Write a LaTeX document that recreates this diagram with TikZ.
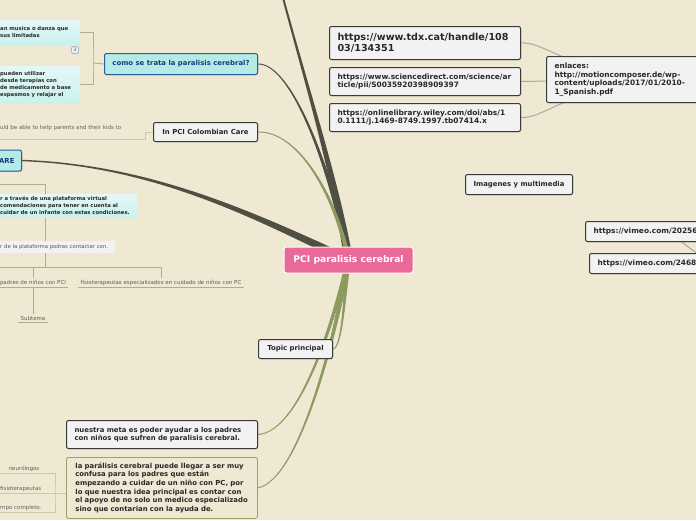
\documentclass[tikz,border=0pt]{standalone}
\usepackage{fontspec}
\setmainfont{DejaVu Sans}
\usetikzlibrary{calc,shadows}

\definecolor{paper}{RGB}{239,232,210}
\definecolor{darkbranch}{RGB}{80,79,67}
\definecolor{greenbranch}{RGB}{140,154,98}
\definecolor{pinkhub}{RGB}{233,105,152}
\definecolor{cyanfill}{RGB}{179,235,231}
\definecolor{cyanline}{RGB}{45,93,150}
\definecolor{cyantext}{RGB}{27,58,120}
\definecolor{boxfill}{RGB}{242,242,242}
\definecolor{boxline}{RGB}{58,58,58}
\definecolor{boxtext}{RGB}{40,40,40}
\definecolor{linkline}{RGB}{168,168,164}
\definecolor{bracketline}{RGB}{178,170,148}
\definecolor{paleline}{RGB}{200,202,166}
\definecolor{idealine}{RGB}{150,163,110}

\pgfdeclarelayer{canvas}
\pgfdeclarelayer{wires}
\pgfsetlayers{canvas,wires,main}

\tikzset{
  hub/.style={fill=pinkhub, draw=white, line width=1pt, rounded corners=2.5pt,
    text=white, font=\bfseries\fontsize{9.2}{11}\selectfont},
  question/.style={fill=cyanfill, draw=cyanline, line width=1pt, rounded corners=2pt,
    text=cyantext, font=\bfseries\fontsize{6.9}{8.6}\selectfont,
    drop shadow={opacity=.3, shadow xshift=.8pt, shadow yshift=-.8pt}},
  topic/.style={fill=boxfill, draw=boxline, line width=1pt, rounded corners=2pt,
    text=boxtext, font=\bfseries\fontsize{6.9}{8.6}\selectfont,
    drop shadow={opacity=.3, shadow xshift=.8pt, shadow yshift=-.8pt}},
  link/.style={topic, align=left, inner xsep=8pt, font=\bfseries\fontsize{7.4}{8.2}\selectfont},
  idea/.style={fill=paper, draw=idealine, line width=.8pt, rounded corners=2pt,
    text=boxtext, font=\bfseries\fontsize{6.9}{8.7}\selectfont, align=left, inner xsep=9pt},
  leafbox/.style={top color=cyanfill!35, bottom color=cyanfill!70, align=left,
    inner xsep=6pt, inner ysep=2pt, text=boxtext, font=\bfseries\fontsize{5.3}{7}\selectfont},
  plainbox/.style={fill=boxfill, align=left, inner xsep=6pt, inner ysep=2pt,
    text=boxtext!80, font=\fontsize{5.3}{7}\selectfont},
  leaftext/.style={inner xsep=2pt, inner ysep=1.5pt, text=boxtext!75,
    font=\fontsize{5.5}{6.5}\selectfont},
  badge/.style={fill=boxfill, draw=cyanline!60, line width=.5pt, rounded corners=1.5pt,
    inner sep=1pt, minimum size=7pt, text=cyanline, font=\fontsize{4.5}{5}\selectfont},
  darkarm/.style={fill=darkbranch, draw=darkbranch, line width=.9pt, line join=round},
  greenarm/.style={fill=greenbranch, draw=greenbranch, line width=.9pt, line join=round},
  bracket/.style={draw=bracketline, line width=.8pt},
  pale/.style={draw=paleline, line width=.8pt},
  weblink/.style={draw=linkline, line width=1pt}
}

%% A branch that gets thicker towards the central topic.
\newcommand{\arm}[6]{%
  \filldraw[#1] (#2) .. controls (#3) and (#4) .. ($(#5)+(#6)$)
    -- ($(#5)-(#6)$) .. controls ($(#4)-(#6)$) and (#3) .. (#2) -- cycle;}

\begin{document}
\begin{tikzpicture}[x=1pt,y=-1pt]
  %% Canvas.
  \begin{pgfonlayer}{canvas}
    \fill[paper] (0,0) rectangle (696,520);
  \end{pgfonlayer}
  \useasboundingbox (0,0) rectangle (696,520);
  \clip (0,0) rectangle (696,520);

  %% Central topic.
  \node[hub, minimum width=129, minimum height=26] (pci) at (348.5,260) {PCI paralisis cerebral};

  %% Main topics round the centre.
  \node[question, anchor=north west, minimum width=153, minimum height=21] (como) at (104,53)
    {como se trata la paralisis cerebral?};
  \node[question, anchor=east, inner xsep=7pt, text width=30, align=right, minimum height=21] (are) at (22,160.5) {ARE};
  \node[topic, anchor=north west, minimum width=104, minimum height=19] (inpci) at (153,122)
    {In PCI Colombian Care};
  \node[topic, anchor=north west, minimum width=74, minimum height=19] (topicp) at (258,339)
    {Topic principal};
  \node[topic, anchor=north west, align=left, inner xsep=8pt, text width=175, minimum height=28] (meta) at (66,420)
    {nuestra meta es poder ayudar a los padres\\con niños que sufren de paralisis cerebral.};
  \node[idea, anchor=north west, text width=173, minimum height=61] (idea) at (66,457)
    {la parálisis cerebral puede llegar a ser muy\\confusa para los padres que están\\empezando a cuidar de un niño con PC, por\\lo que nuestra idea principal es contar con\\el apoyo de no solo un medico especializado\\sino que contarian con la ayuda de.};

  %% Links.
  \node[link, anchor=north west, text width=175, minimum height=33, font=\bfseries\fontsize{9.6}{10.5}\selectfont] (tdx) at (329,26)
    {https://www.tdx.cat/handle/108\\03/134351};
  \node[link, anchor=north west, text width=175, minimum height=28] (sciencedirect) at (329,67)
    {https://www.sciencedirect.com/science/ar\\ticle/pii/S0035920398909397};
  \node[link, anchor=north west, text width=175, minimum height=28] (wiley) at (329,103)
    {https://onlinelibrary.wiley.com/doi/abs/1\\0.1111/j.1469-8749.1997.tb07414.x};
  \node[link, anchor=north west, text width=140, minimum height=46, font=\bfseries\fontsize{7.4}{8.4}\selectfont] (enlaces) at (546,56)
    {enlaces:\\http://motioncomposer.de/wp-\\content/uploads/2017/01/2010-\\1\_Spanish.pdf};
  \node[topic, anchor=north west, minimum width=107, minimum height=20] (multimedia) at (465,174)
    {Imagenes y multimedia};
  \node[link, anchor=north west, text width=120, minimum height=20] (vimeoA) at (585,221)
    {https://vimeo.com/20256};
  \node[link, anchor=north west, text width=120, minimum height=20] (vimeoB) at (589,253)
    {https://vimeo.com/2468};
  \coordinate (vimeoend) at (702,257);

  %% Subtopics of "como se trata".
  \node[leafbox, anchor=north west, text width=74, minimum height=24] (musica) at (-6,20)
    {an musica o danza que\\ sus limitadas};
  \node[leafbox, anchor=north west, text width=74, minimum height=37] (terapias) at (-6,66)
    {pueden utilizar\\ desde terapias con\\ de medicamento a base\\ espasmos y relajar el};
  \node[badge] (count) at (75,50) {3};
  \coordinate (comojoint) at (93,63);

  %% Subtopic of "In PCI Colombian Care".
  \node[leaftext, anchor=west] (kids) at (-2,128) {uld be able to help parents and their kids to};
  \coordinate (kidsjoint) at (145,139);
  \coordinate (kidsend) at (0,139);

  %% Subtopics of "ARE".
  \node[leafbox, anchor=north west, text width=131, minimum height=23] (plataforma) at (-6,194)
    {r a través de una plataforma virtual\\ comendaciones para tener en cuenta al\\ cuidar de un infante con estas condiciones.};
  \node[plainbox, anchor=north west, text width=109, minimum height=12] (contactar) at (-6,241)
    {r de la plataforma podras contactar con.};
  \coordinate (aretop) at (0,184);
  \coordinate (arebot) at (0,267);
  \coordinate (arejoint) at (45,184);
  \coordinate (padresjoint) at (33,267);
  \node[leaftext, anchor=south] (padres) at (33,287) {padres de niños con PCI};
  \node[leaftext, anchor=south] (fisio) at (161,287) {fisioterapeutas especializados en cuidado de niños con PC};
  \node[leaftext, anchor=south] (subtema) at (33,322) {Subtema};

  %% Subtopics of the main idea.
  \node[leaftext, anchor=south] (neuro) at (24,473) {neurólogos};
  \node[leaftext, anchor=south west] (fisiob) at (-2,493) {fisioterapeutas};
  \node[leaftext, anchor=south west] (completo) at (-2,512) {mpo completo.};
  \coordinate (ideajoint) at (55,493);

  \begin{pgfonlayer}{wires}
    %% Branches into the central topic.
    \arm{darkarm, line width=2pt}{282,-6}{305,80}{338,180}{pci.center}{3.5,0}
    \arm{darkarm}{como.east}{290,63}{330,160}{pci.center}{2.2,0}
    \arm{darkarm, line width=1.4pt}{are.east}{150,165}{250,215}{pci.center}{-1.5,3.2}
    \arm{greenarm}{inpci.east}{300,131}{338,200}{pci.center}{2,0}
    \arm{greenarm}{topicp.east}{342,348}{345,300}{pci.center}{1.8,0}
    \arm{greenarm}{meta.east}{300,432}{335,320}{pci.center}{2.2,0}
    \arm{greenarm}{idea.east}{300,480}{338,330}{pci.center}{2.2,0}

    %% Link connectors.
    \draw[weblink] (tdx.east) .. controls (540,42) and (550,56) .. (enlaces.center);
    \draw[weblink] (sciencedirect.east) -- (enlaces.center);
    \draw[weblink] (wiley.east) .. controls (540,118) and (550,104) .. (enlaces.center);
    \draw[weblink] (vimeoA.south) ++(28,0) -- (vimeoend);

    %% Bracket lines.
    \draw[bracket] (musica.east) -| (comojoint) |- (terapias.east);
    \draw[bracket] (comojoint) -- (como.west);
    \draw[pale] (inpci.west) -| (kidsjoint) -- (kidsend);
    \draw[bracket] (aretop) -- (arejoint) -- (arejoint |- arebot) -- (arebot);
    \draw[bracket] (arebot) -- (fisio.north |- arebot) -- (fisio.north);
    \draw[bracket] (padresjoint) -- (padres.north);
    \draw[bracket] (padres.south) -- (subtema.north);
    \draw[bracket] (0,287) -- (padres.south east);
    \draw[bracket] (fisio.south west) -- (fisio.south east);
    \draw[bracket] (subtema.south west) -- (subtema.south east);
    \draw[pale] (0,473) -| (ideajoint) |- (0,512);
    \draw[pale] (0,493) -- (idea.west |- ideajoint);
  \end{pgfonlayer}
\end{tikzpicture}
\end{document}
